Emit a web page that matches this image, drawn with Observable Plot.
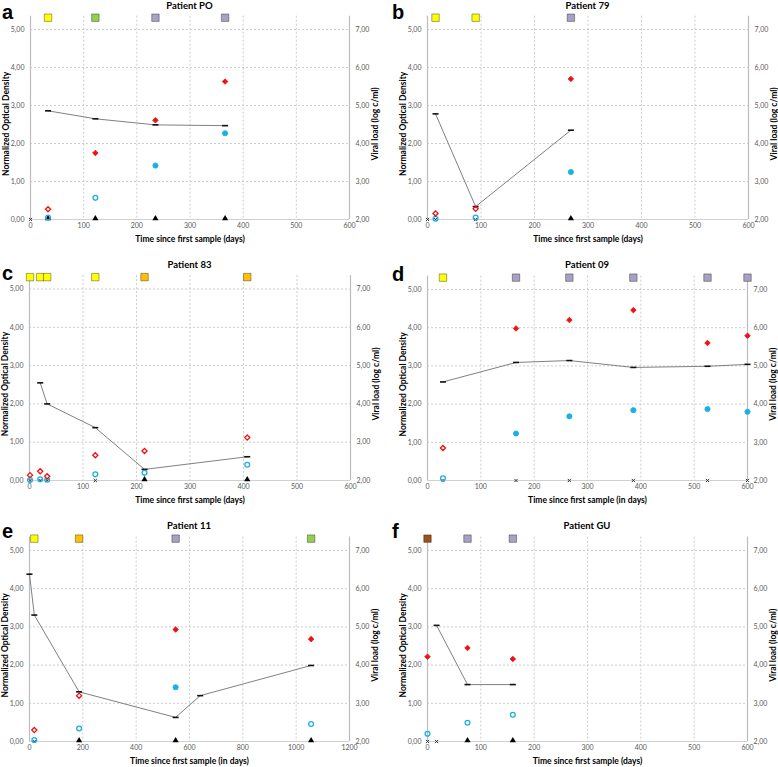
<!DOCTYPE html>
<html><head><meta charset="utf-8">
<script src="https://cdn.jsdelivr.net/npm/d3@7"></script>
<script src="https://cdn.jsdelivr.net/npm/@observablehq/plot@0.6"></script>
<style>
body{margin:0;background:#fff;}
#root{position:relative;width:778px;height:767px;overflow:hidden;font-family:Lato,"Liberation Sans",sans-serif;}
#root svg{position:absolute;}
.letter{position:absolute;font:bold 20px "Liberation Sans",Arial,sans-serif;line-height:normal;color:#000;}
.title{position:absolute;font:bold 9.5px Lato,sans-serif;line-height:12px;transform:translateX(-50%);white-space:nowrap;color:#000;}
</style></head><body><div id="root"></div><script>
// ---------------- DATA ----------------
// Square category codes and their colours
const codeNames = ["Y", "G", "P", "O", "B"];
const codeColors = ["#ffff00", "#92d050", "#a9a0c4", "#ffc000", "#a0501a"];

// a — Patient PO
const aSqDays = [33, 122, 235, 366];
const aSqCode = ["Y", "G", "P", "P"];
const aDays = [33, 122, 235, 366];
const aRed = [0.27, 1.75, 2.61, 3.63];
const aRedFilled = [false, true, true, true];
const aBlue = [0.05, 0.57, 1.42, 2.27];
const aBlueFilled = [false, false, true, true];
const aVLDays = [33, 122, 235, 366];
const aVL = [4.86, 4.65, 4.49, 4.47];
const aTri = [33, 122, 235, 366];
const aX = [0];

// b — Patient 79
const bSqDays = [15, 90, 268];
const bSqCode = ["Y", "Y", "P"];
const bDays = [15, 90, 268];
const bRed = [0.16, 0.28, 3.7];
const bRedFilled = [false, false, true];
const bBlue = [0.02, 0.05, 1.25];
const bBlueFilled = [false, false, true];
const bVLDays = [15, 90, 268];
const bVL = [4.78, 2.34, 4.35];
const bTri = [268];
const bX = [0, 15, 90];

// c — Patient 83
const cSqDays = [1, 20, 33, 123, 215, 407];
const cSqCode = ["Y", "Y", "Y", "Y", "O", "O"];
const cDays = [1, 20, 33, 123, 215, 407];
const cRed = [0.14, 0.24, 0.11, 0.66, 0.77, 1.12];
const cRedFilled = [false, false, false, false, false, false];
const cBlue = [0.01, 0.03, 0.02, 0.16, 0.2, 0.41];
const cBlueFilled = [false, false, false, false, false, false];
const cVLDays = [20, 33, 123, 215, 407];
const cVL = [4.55, 4.0, 3.38, 2.29, 2.62];
const cTri = [215, 407];
const cX = [1, 20, 33, 123];

// d — Patient 09
const dSqDays = [29, 166, 266, 386, 525, 600];
const dSqCode = ["Y", "P", "P", "P", "P", "P"];
const dDays = [29, 166, 266, 386, 525, 600];
const dRed = [0.85, 3.98, 4.2, 4.46, 3.6, 3.79];
const dRedFilled = [false, true, true, true, true, true];
const dBlue = [0.06, 1.23, 1.68, 1.84, 1.87, 1.8];
const dBlueFilled = [false, true, true, true, true, true];
const dVLDays = [29, 166, 266, 386, 525, 600];
const dVL = [4.58, 5.09, 5.14, 4.96, 4.99, 5.04];
const dTri = [];
const dX = [29, 166, 266, 386, 525, 600];

// e — Patient 11
const eSqDays = [18, 186, 548, 1056];
const eSqCode = ["Y", "O", "P", "G"];
const eDays = [18, 186, 548, 1056];
const eRed = [0.3, 1.2, 2.93, 2.68];
const eRedFilled = [false, false, true, true];
const eBlue = [0.04, 0.34, 1.42, 0.46];
const eBlueFilled = [false, false, true, false];
const eVLDays = [0, 18, 186, 548, 640, 1056];
const eVL = [6.38, 5.31, 3.3, 2.63, 3.2, 3.99];
const eTri = [186, 548, 1056];
const eX = [18];

// f — Patient GU
const fSqDays = [0, 75, 160];
const fSqCode = ["B", "P", "P"];
const fDays = [0, 75, 160];
const fRed = [2.22, 2.45, 2.16];
const fRedFilled = [true, true, true];
const fBlue = [0.2, 0.49, 0.7];
const fBlueFilled = [false, false, false];
const fVLDays = [17, 75, 160];
const fVL = [5.04, 3.49, 3.49];
const fTri = [75, 160];
const fX = [0, 17];

const yLeftLabel = "Normalized Optical Density";
const yRightLabel = "Viral load (log c/ml)";
const xLabelDays = "Time since first sample (days)";
const xLabelInDays = "Time since first sample (in days)";

// ---------------- LAYOUT ----------------
const panels = [
  {letter: "a", title: "Patient PO", xlab: xLabelDays, xMax: 600, xStep: 100,
   sqDays: aSqDays, sqCode: aSqCode, days: aDays, red: aRed, redF: aRedFilled, blue: aBlue, blueF: aBlueFilled,
   vlDays: aVLDays, vl: aVL, tri: aTri, xm: aX,
   L: {left: 0, top: 0, w: 390, h: 250, px0: 30, px1: 349, py0: 219, py5: 29, letterTop: 0.5, titleMid: 5.5}},
  {letter: "b", title: "Patient 79", xlab: xLabelDays, xMax: 600, xStep: 100,
   sqDays: bSqDays, sqCode: bSqCode, days: bDays, red: bRed, redF: bRedFilled, blue: bBlue, blueF: bBlueFilled,
   vlDays: bVLDays, vl: bVL, tri: bTri, xm: bX,
   L: {left: 390, top: 0, w: 388, h: 250, px0: 427, px1: 748, py0: 219, py5: 29, letterTop: 0.5, titleMid: 5.5}},
  {letter: "c", title: "Patient 83", xlab: xLabelDays, xMax: 600, xStep: 100,
   sqDays: cSqDays, sqCode: cSqCode, days: cDays, red: cRed, redF: cRedFilled, blue: cBlue, blueF: cBlueFilled,
   vlDays: cVLDays, vl: cVL, tri: cTri, xm: cX,
   L: {left: 0, top: 250, w: 390, h: 255, px0: 29, px1: 350, py0: 480, py5: 288.5, letterTop: 262, titleMid: 265}},
  {letter: "d", title: "Patient 09", xlab: xLabelInDays, xMax: 600, xStep: 100,
   sqDays: dSqDays, sqCode: dSqCode, days: dDays, red: dRed, redF: dRedFilled, blue: dBlue, blueF: dBlueFilled,
   vlDays: dVLDays, vl: dVL, tri: dTri, xm: dX,
   L: {left: 390, top: 250, w: 388, h: 255, px0: 427, px1: 747, py0: 480, py5: 289, letterTop: 263, titleMid: 265}},
  {letter: "e", title: "Patient 11", xlab: xLabelInDays, xMax: 1200, xStep: 200,
   sqDays: eSqDays, sqCode: eSqCode, days: eDays, red: eRed, redF: eRedFilled, blue: eBlue, blueF: eBlueFilled,
   vlDays: eVLDays, vl: eVL, tri: eTri, xm: eX,
   L: {left: 0, top: 505, w: 390, h: 262, px0: 29, px1: 349, py0: 741, py5: 550, letterTop: 520, titleMid: 526}},
  {letter: "f", title: "Patient GU", xlab: xLabelDays, xMax: 600, xStep: 100,
   sqDays: fSqDays, sqCode: fSqCode, days: fDays, red: fRed, redF: fRedFilled, blue: fBlue, blueF: fBlueFilled,
   vlDays: fVLDays, vl: fVL, tri: fTri, xm: fX,
   L: {left: 390, top: 505, w: 388, h: 262, px0: 427, px1: 747, py0: 741, py5: 550, letterTop: 520, titleMid: 526}}
];

const RED = "#f01010";
const BLUE = "#1ab0e6";
const Y_TOP = 5.35;
const fmt = v => v.toFixed(2).replace(".", ",");

// horizontal dash symbol for viral-load points
const dashSymbol = {
  draw(ctx, size) {
    const r = Math.sqrt(size / Math.PI);
    const w = r * 1.5, h = 0.8;
    ctx.moveTo(-w, -h); ctx.lineTo(w, -h); ctx.lineTo(w, h); ctx.lineTo(-w, h); ctx.closePath();
  }
};

const root = document.getElementById("root");

for (const p of panels) {
  const L = p.L;
  const unit = (L.py0 - L.py5) / 5;
  const mt = L.py0 - Y_TOP * unit - L.top;
  const mb = L.top + L.h - L.py0;
  const ml = L.px0 - L.left;
  const mr = L.left + L.w - L.px1;

  const pts = p.days.map((d, i) => ({day: d, red: p.red[i], rf: p.redF[i], blue: p.blue[i], bf: p.blueF[i]}));
  const vl = p.vlDays.map((d, i) => ({day: d, vl: p.vl[i]}));
  const sq = p.sqDays.map((d, i) => ({day: d, code: p.sqCode[i]}));
  const xTicks = d3.range(0, p.xMax + 1, p.xStep);
  const xGrid = xTicks.filter(t => t > 0 && t < p.xMax);

  const svg = Plot.plot({
    width: L.w, height: L.h,
    marginLeft: ml, marginRight: mr, marginTop: mt, marginBottom: mb,
    x: {domain: [0, p.xMax]},
    y: {domain: [0, Y_TOP]},
    color: {domain: codeNames, range: codeColors},
    style: {fontFamily: "Lato, sans-serif", fontSize: "7px", color: "#595959", background: "transparent", overflow: "visible"},
    marks: [
      Plot.gridY([1, 2, 3, 4, 5], {stroke: "#c6c6c6", strokeOpacity: 1, strokeDasharray: "2,2", strokeWidth: 0.9}),
      Plot.gridX(xGrid, {stroke: "#c6c6c6", strokeOpacity: 1, strokeDasharray: "2,2", strokeWidth: 0.9}),
      Plot.ruleY([0], {stroke: "#d0d0d0"}),
      Plot.ruleX([0, p.xMax], {stroke: "#bcbcbc", strokeWidth: 1.2}),
      Plot.axisY([0, 1, 2, 3, 4, 5], {anchor: "left", tickSize: 0, tickPadding: 6, tickFormat: fmt, label: null}),
      Plot.axisY([0, 1, 2, 3, 4, 5], {anchor: "right", tickSize: 0, tickPadding: 6, tickFormat: d => fmt(d + 2), label: null}),
      Plot.axisX(xTicks, {anchor: "bottom", tickSize: 0, tickPadding: 4, tickFormat: d => String(d), label: null}),
      Plot.text([yLeftLabel], {frameAnchor: "left", textAnchor: "middle", lineAnchor: "middle", rotate: -90, dx: -24, dy: 6, fontWeight: "bold", fontSize: 8.5, fill: "#000"}),
      Plot.text([yRightLabel], {frameAnchor: "right", textAnchor: "middle", lineAnchor: "middle", rotate: -90, dx: 26, dy: 6, fontWeight: "bold", fontSize: 8.5, fill: "#000"}),
      Plot.text([p.xlab], {frameAnchor: "bottom", textAnchor: "middle", lineAnchor: "middle", dy: 20, fontWeight: "bold", fontSize: 8.5, fill: "#000"}),
      // viral load line with dash markers
      Plot.line(vl, {x: "day", y: d => d.vl - 2, stroke: "#808080", strokeWidth: 1}),
      Plot.dot(vl, {x: "day", y: d => d.vl - 2, symbol: dashSymbol, r: 2, fill: "#111", stroke: "none"}),
      // baseline markers
      Plot.dot(p.xm, {x: d => d, frameAnchor: "bottom", symbol: "times", r: 1.6, stroke: "#333", strokeWidth: 1}),
      Plot.dot(p.tri, {x: d => d, frameAnchor: "bottom", dy: -1, symbol: "triangle", r: 2.3, fill: "#000", stroke: "none"}),
      // blue circles
      Plot.dot(pts.filter(d => d.bf), {x: "day", y: "blue", r: 2.6, fill: BLUE, stroke: BLUE, strokeWidth: 0.8}),
      Plot.dot(pts.filter(d => !d.bf), {x: "day", y: "blue", r: 2.4, fill: "none", stroke: BLUE, strokeWidth: 1.3}),
      // red diamonds
      Plot.dot(pts.filter(d => d.rf), {x: "day", y: "red", symbol: "diamond2", r: 2.5, fill: RED, stroke: RED, strokeWidth: 0.8}),
      Plot.dot(pts.filter(d => !d.rf), {x: "day", y: "red", symbol: "diamond2", r: 2.3, fill: "white", stroke: RED, strokeWidth: 1.3}),
      // category squares on top
      Plot.dot(sq, {x: "day", frameAnchor: "top", dy: 1.5, symbol: "square", r: 4.2, fill: "code", stroke: "#000", strokeOpacity: 0.35, strokeWidth: 1})
    ]
  });
  svg.style.left = L.left + "px";
  svg.style.top = L.top + "px";
  root.appendChild(svg);

  const t = document.createElement("div");
  t.className = "title";
  t.textContent = p.title;
  t.style.left = ((L.px0 + L.px1) / 2) + "px";
  t.style.top = (L.titleMid - 6) + "px";
  root.appendChild(t);

  const l = document.createElement("div");
  l.className = "letter";
  l.textContent = p.letter;
  l.style.left = (L.left + 2) + "px";
  l.style.top = L.letterTop + "px";
  root.appendChild(l);
}
</script></body></html>
